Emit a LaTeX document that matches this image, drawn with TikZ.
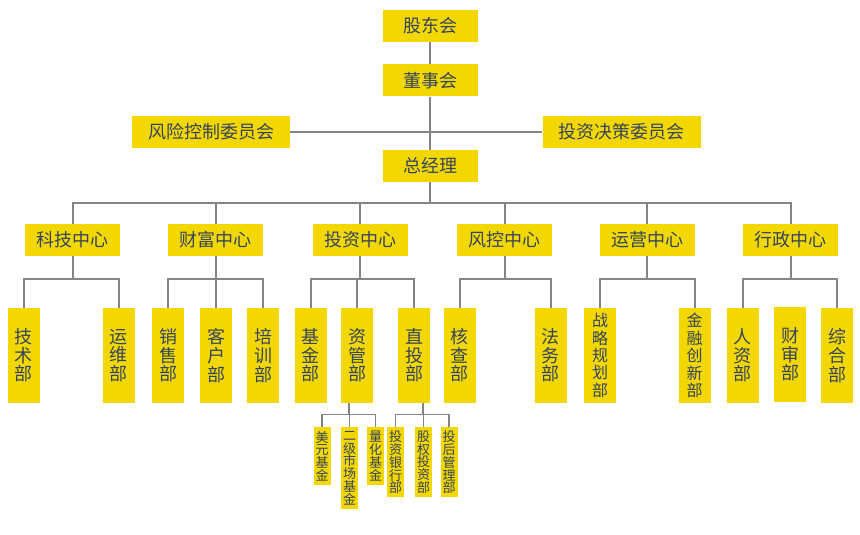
\documentclass[tikz,border=0pt]{standalone}
\usepackage{fontspec}
\newfontfamily\cjk{Noto Sans CJK SC}
\usetikzlibrary{positioning}
\definecolor{orgyellow}{HTML}{F2D800}
\definecolor{orgtext}{HTML}{36445C}
\definecolor{orgline}{HTML}{858585}

\begin{document}
\begin{tikzpicture}[x=1pt, y=-1pt, node distance=48pt,
    box/.style={fill=orgyellow, text=orgtext, inner sep=0pt,
      font=\cjk\fontsize{18}{19}\selectfont,
      minimum width=95pt, minimum height=32pt},
    wide/.style={box, minimum width=158pt},
    tall/.style={box, align=center, minimum width=32pt, minimum height=95pt,
      font=\cjk\fontsize{18}{18.6}\selectfont},
    tallfive/.style={tall, font=\cjk\fontsize{16}{17.4}\selectfont},
    small/.style={fill=orgyellow, text=orgtext, inner sep=0pt, anchor=north,
      align=center, font=\cjk\fontsize{13}{12.9}\selectfont, minimum width=17pt},
    link/.style={draw=orgline, line width=2pt},
    sublink/.style={draw=orgline, line width=1.2pt}]
  \useasboundingbox (0,0) rectangle (860,535);

  % top of the tree
  \node[box] (gdh) at (430,26) {股东会};
  \node[box, below=22pt of gdh] (dsh) {董事会};
  \node[box, below=53pt of dsh] (zjl) {总经理};
  \node[wide] (fxkz) at (211,132) {风险控制委员会};
  \node[wide] (tzjc) at (621.5,132) {投资决策委员会};

  % centres
  \node[box] (kj) at (72.5,240) {科技中心};
  \node[box, right=of kj] (cf) {财富中心};
  \node[box, right=49pt of cf] (tz) {投资中心};
  \node[box, right=49pt of tz] (fk) {风控中心};
  \node[box, right=47pt of fk] (yy) {运营中心};
  \node[box, right=of yy] (xz) {行政中心};

  % departments
  \node[tall] (jsb) at (24,355.5) {技\\术\\部};
  \node[tall] (ywb) at (118.5,355.5) {运\\维\\部};
  \node[tall] (xsb) at (168,355.5) {销\\售\\部};
  \node[tall] (khb) at (216,355.5) {客\\户\\部};
  \node[tall] (pxb) at (263,355.5) {培\\训\\部};
  \node[tall] (jjb) at (310.5,355.5) {基\\金\\部};
  \node[tall] (zgb) at (357,355.5) {资\\管\\部};
  \node[tall] (ztb) at (414,355.5) {直\\投\\部};
  \node[tall] (hcb) at (459.5,355.5) {核\\查\\部};
  \node[tall] (fwb) at (550.5,355.5) {法\\务\\部};
  \node[tallfive] (zlgh) at (600,355.5) {战\\略\\规\\划\\部};
  \node[tallfive] (jrcx) at (694.5,355.5) {金\\融\\创\\新\\部};
  \node[tall] (rzb) at (742.5,355.5) {人\\资\\部};
  \node[tall] (czb) at (790,354.5) {财\\审\\部};
  \node[tall] (zhb) at (837,355.5) {综\\合\\部};

  % funds and teams
  \node[small, minimum height=58pt] (myjj) at (322,427) {美\\元\\基\\金};
  \node[small, minimum height=82pt] (ejsc) at (349.5,427) {二\\级\\市\\场\\基\\金};
  \node[small, minimum height=58pt] (lhjj) at (375.5,427) {量\\化\\基\\金};
  \node[small, minimum height=70pt] (tzyh) at (395.5,427) {投\\资\\银\\行\\部};
  \node[small, minimum height=70pt] (gqtz) at (423.5,427) {股\\权\\投\\资\\部};
  \node[small, minimum height=70pt] (thgl) at (449,427) {投\\后\\管\\理\\部};

  % connectors
  \draw[link] (gdh) -- (dsh);
  \draw[link] (dsh) -- (zjl);
  \draw[link] (fxkz) -- (tzjc);
  \draw[link] (zjl.south) -- ++(0,21) coordinate (zjlbus);
  \foreach \c in {kj,cf,tz,fk,yy,xz}
    \draw[link] (zjlbus) -| (\c.north);

  \draw[link] (kj.south) -- ++(0,23) coordinate (kjbus);
  \foreach \d in {jsb,ywb}
    \draw[link] (kjbus) -| (\d.north);
  \draw[link] (cf.south) -- ++(0,23) coordinate (cfbus);
  \foreach \d in {xsb,khb,pxb}
    \draw[link] (cfbus) -| (\d.north);
  \draw[link] (tz.south) -- ++(0,23) coordinate (tzbus);
  \foreach \d in {jjb,zgb,ztb}
    \draw[link] (tzbus) -| (\d.north);
  \draw[link] (fk.south) -- ++(0,23) coordinate (fkbus);
  \foreach \d in {hcb,fwb}
    \draw[link] (fkbus) -| (\d.north);
  \draw[link] (yy.south) -- ++(0,23) coordinate (yybus);
  \foreach \d in {zlgh,jrcx}
    \draw[link] (yybus) -| (\d.north);
  \draw[link] (xz.south) -- ++(0,23) coordinate (xzbus);
  \foreach \d in {rzb,zhb}
    \draw[link] (xzbus) -| (\d.north);

  \draw[sublink] ([xshift=-8pt]zgb.south) -- ++(0,11) coordinate (zgbus);
  \foreach \e in {myjj,ejsc,lhjj}
    \draw[sublink] (zgbus) -| (\e.north);
  \draw[sublink] ([xshift=9pt]ztb.south) -- ++(0,11) coordinate (ztbus);
  \foreach \e in {tzyh,gqtz,thgl}
    \draw[sublink] (ztbus) -| (\e.north);
\end{tikzpicture}
\end{document}
